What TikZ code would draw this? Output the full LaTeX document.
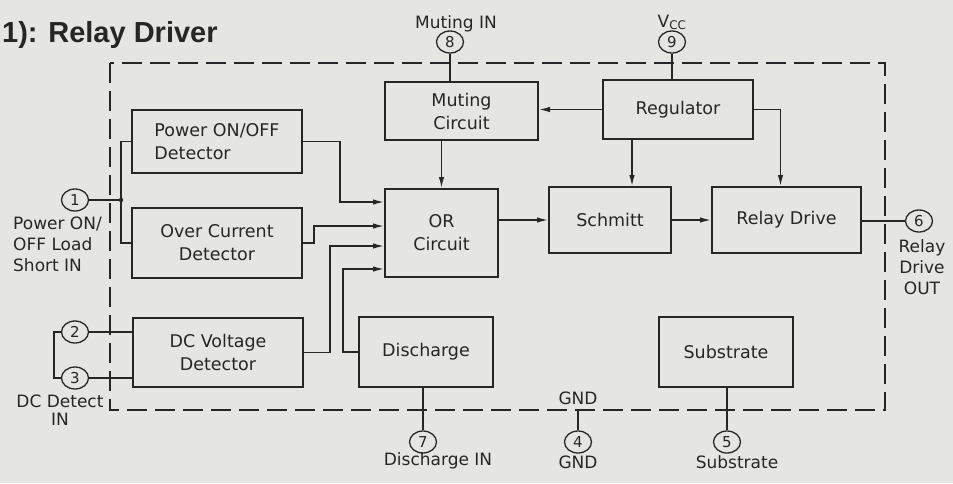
\documentclass[tikz,border=0pt]{standalone}
\usepackage{fontspec}
\setmainfont{DejaVu Sans}
\newfontfamily\titlefont{Liberation Sans}
\usepackage{xcolor}
\usepackage{tikz}
\usetikzlibrary{arrows.meta,shapes.geometric}
\definecolor{paper}{RGB}{229,229,226}
\definecolor{ink}{RGB}{38,38,38}
\begin{document}
\begin{tikzpicture}[x=1pt,y=-1pt,>={Latex[length=11pt,width=5.5pt]},
  blk/.style={draw=ink,line width=2pt,rectangle,inner sep=0pt,align=center,text=ink,font=\fontsize{17.5}{23}\selectfont},
  pin/.style={draw=ink,line width=1.3pt,ellipse,minimum width=27pt,minimum height=22pt,inner sep=0pt,text=ink,font=\fontsize{15}{15}\selectfont},
  wire/.style={draw=ink,line width=1.4pt},
  sig/.style={wire,->},
  lbl/.style={inner sep=0pt,text=ink,font=\fontsize{17}{21}\selectfont},
  chipline/.style={draw=ink,line width=2pt,dash pattern=on 20pt off 8pt}]
\fill[paper](0,0)rectangle(953,483);
\useasboundingbox(0,0)rectangle(953,483);
\node[anchor=base west,inner sep=0pt,text=ink,font=\titlefont\bfseries\fontsize{29}{29}\selectfont](title)at(2,42){1): Relay Driver};
\draw[chipline](110,63)rectangle(885,410);
% blocks
\node[blk,align=left,minimum width=170pt,minimum height=63pt](pwr)at(217,141.5){Power ON/OFF\\Detector};
\node[blk,minimum width=170pt,minimum height=70pt](ovc)at(217,243){Over Current\\Detector};
\node[blk,minimum width=170pt,minimum height=69pt](dcv)at(218,352.5){DC Voltage\\Detector};
\node[blk,minimum width=153pt,minimum height=58pt](mute)at(461.5,111){Muting\\Circuit};
\node[blk,minimum width=113pt,minimum height=88pt](orc)at(441.5,233){OR\\Circuit};
\node[blk,minimum width=134pt,minimum height=70pt](dis)at(426,352){Discharge};
\node[blk,minimum width=150pt,minimum height=59pt](reg)at(678,109.5){Regulator};
\node[blk,minimum width=122pt,minimum height=66pt](sch)at(610,220){Schmitt};
\node[blk,minimum width=149pt,minimum height=66pt](rld)at(786.5,220){Relay Drive};
\node[blk,minimum width=134pt,minimum height=70pt](sub)at(726,352){Substrate};
% pins
\node[pin](p1)at(75,200){1};
\node[pin](p2)at(75,332){2};
\node[pin](p3)at(75,378){3};
\node[pin](p4)at(578,442){4};
\node[pin](p5)at(727,442){5};
\node[pin](p6)at(919,221){6};
\node[pin](p7)at(423,442){7};
\node[pin](p8)at(450,42){8};
\node[pin](p9)at(672,42){9};
\coordinate(jn)at(121,200);
\coordinate(gnd)at(578,410);
% pin labels
\node[lbl,anchor=base](mutin)at(456,28){Muting IN};
\node[lbl,anchor=base](vcc)at(672,27){V\textsubscript{CC}};
\node[lbl,anchor=north west,align=left](p1txt)at(13,217){Power ON/\\OFF Load\\Short IN};
\node[lbl,anchor=north,align=center,font=\fontsize{17}{18}\selectfont](dctxt)at(60,395){DC Detect\\IN};
\node[lbl,anchor=base](distxt)at(438,465){Discharge IN};
\node[lbl,anchor=base](gndin)at(578,404){GND};
\node[lbl,anchor=base](gndtxt)at(578,468){GND};
\node[lbl,anchor=base](subtxt)at(737,468){Substrate};
\node[lbl,anchor=north,align=center](outtxt)at(922,239){Relay\\Drive\\OUT};
% wiring
\draw[wire](p8)--(p8|-mute.north);
\draw[wire](p9)--(p9|-reg.north);
\draw[wire](p1)--(jn);
\draw[wire](pwr.west)-|(jn)|-(ovc.west);
\fill[ink](jn)circle(2.2pt);
\draw[wire](p2)--(p2-|dcv.west);
\draw[wire](p3)--(p3-|dcv.west);
\draw[wire](p2.west)--++(-7,0)|-(p3.west);
\draw[wire](dis.south-|p7)--(p7);
\draw[wire](gnd)--(p4);
\draw[wire](sub.south-|p5)--(p5);
\draw[wire](rld.east|-p6)--(p6);
\draw[sig](pwr.east)-|([xshift=-44pt,yshift=31pt]orc.west)--([yshift=31pt]orc.west);
\draw[sig](ovc.east)--++(11,0)|-([yshift=7pt]orc.west);
\draw[sig](dcv.east)--++(26,0)|-([yshift=-13pt]orc.west);
\draw[sig](dis.west)--++(-15,0)|-([yshift=-36pt]orc.west);
\draw[sig](orc.north|-mute.south)--(orc.north);
\draw[sig](reg.west)--(reg.west-|mute.east);
\draw[sig]([xshift=-46pt]reg.south)--([xshift=22pt]sch.north);
\draw[sig](reg.east)-|([xshift=-6pt]rld.north);
\draw[sig](orc.east|-sch.west)--(sch.west);
\draw[sig](sch.east)--(rld.west);
\end{tikzpicture}
\end{document}
